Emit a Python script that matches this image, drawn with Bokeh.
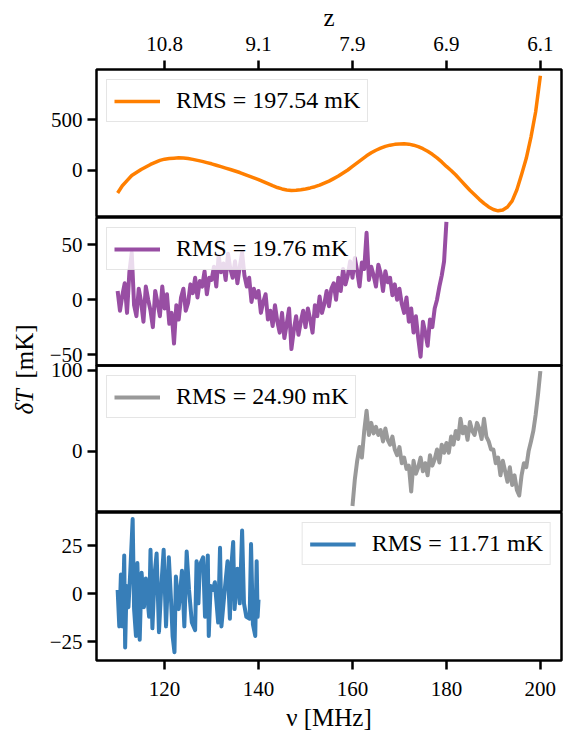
import numpy as np
from math import pi
from bokeh.plotting import figure
from bokeh.models import Range1d, FixedTicker, Legend, LegendItem, Label
from bokeh.layouts import column, row
from bokeh.embed import file_html
from bokeh.resources import INLINE

FONT = "Liberation Serif"

# ---------------- data ----------------
freq_ticks = [120, 140, 160, 180, 200]
z_tick_labels = ["10.8", "9.1", "7.9", "6.9", "6.1"]

rms_values = [197.54, 19.76, 24.90, 11.71]
colors = ["#ff7f00", "#984ea3", "#999999", "#377eb8"]

orange_freq = list(range(110, 201))
orange_dT = [
    -222, -150, -100, -50, -20, 10, 35, 60, 80, 100,          # 110-119
    112, 118, 122, 126, 124, 118, 110, 100, 90, 78,          # 120-129
    66, 52, 38, 24, 10, -5, -20, -38, -55, -72,              # 130-139
    -90, -110, -130, -150, -168, -182, -193, -198, -196, -190,  # 140-149
    -182, -172, -160, -145, -125, -105, -80, -55, -25, 5,    # 150-159
    40, 75, 110, 145, 175, 200, 220, 238, 250, 258,          # 160-169
    262, 265, 260, 250, 235, 215, 190, 160, 125, 85,         # 170-179
    40, 0, -45, -95, -145, -195, -240, -285, -325, -360,     # 180-189
    -385, -398, -390, -360, -300, -190, -40, 120, 330, 580,  # 190-199
    935,                                                     # 200
]

purple_freq = [110 + 0.5 * i for i in range(141)]
purple_dT = [
    8, -10, 4, 15, -12, 25, 43, -5, -15, 10,         # 110.0-114.5
    -2, -20, 12, 0, -10, -25, 8, -3, -15, 12,        # 115.0-119.5
    -8, 5, -22, -12, -40, -5, -18, 2, 10, -10,       # 120.0-124.5
    -3, 14, 6, 20, 2, 17, 12, 26, 5, 20,             # 125.0-129.5
    18, 30, 12, 40, 25, 33, 18, 42, 28, 20,          # 130.0-134.5
    35, 15, 30, 43, 22, 12, 20, -2, 10, 2,           # 135.0-139.5
    8, -12, -2, 5, -18, -10, -24, -5, -20, -30,      # 140.0-144.5
    -12, -35, -22, -8, -45, -28, -15, -32, -20, -10, # 145.0-149.5
    -25, -8, -18, -30, -5, -15, 3, -12, -4, 8,       # 150.0-154.5
    -6, 10, 15, 0, 20, 8, 28, 14, 22, 35,            # 155.0-159.5
    20, 38, 26, 12, 34, 28, 61, 18, 30, 22,          # 160.0-164.5
    12, 32, 24, 8, 26, 16, 20, 4, 14, 0,             # 165.0-169.5
    10, -4, -12, 2, -20, -8, -30, -15, -35, -52,     # 170.0-174.5
    -20, -30, -42, -18, -25, -8, 0, 12, 22, 35,      # 175.0-179.5
    71,                                              # 180.0
]

gray_freq = [160 + 0.5 * i for i in range(81)]
gray_dT = [
    -68, -35, -12, 5, -8, 25, 50, 20, 35, 22,        # 160.0-164.5
    30, 20, 26, 12, 28, 14, 8, 18, 2, -5,            # 165.0-169.5
    5, -15, -8, -22, -18, -50, -12, -28, -20, -8,    # 170.0-174.5
    -25, -15, -30, -5, -18, -10, 2, -14, 8, -2,      # 175.0-179.5
    10, -2, 18, 8, 25, 15, 40, 22, 30, 14,           # 180.0-184.5
    36, 25, 20, 35, 28, 15, 40, 18, 12, 2,           # 185.0-189.5
    2, -15, -8, -30, -12, -25, -38, -20, -42, -30,   # 190.0-194.5
    -48, -55, -30, -15, -20, 0, 12, 25, 45, 70,      # 195.0-199.5
    99,                                              # 200.0
]

blue_freq = [
    110.0, 110.35, 110.7, 111.05, 111.4, 111.6, 111.9, 112.3, 112.7, 113.2,
    113.5, 113.9, 114.2, 114.7, 115.1, 115.6, 116.0, 116.7, 117.0, 117.4,
    117.9, 118.3, 118.8, 119.3, 119.8, 120.3, 120.9, 121.4, 121.7, 122.1,
    122.4, 123.0, 123.7, 124.2, 124.7, 125.2, 125.8, 126.5, 126.8, 127.2,
    127.5, 128.2, 128.6, 129.2, 129.4, 129.8, 130.3, 130.7, 131.4, 131.8,
    132.1, 132.8, 133.4, 133.9, 134.2, 134.6, 134.9, 135.5, 136.0, 136.5,
    136.9, 137.4, 138.1, 138.4, 138.8, 139.3, 139.6, 139.8, 140.0,
]
blue_dT = [
    2, -17, 10, -17, 20, -28, 4, -7, 12, 39,
    -8, -22, 16, -24, 11, -7, 8, -12, 23, -18,
    11, 21, -20, 4, 23, -17, 19, -5, -22, -30.5,
    9, -8, 12, -17, 22, 2, -15, -19, 17, -5,
    15, 19, -12, 20, -22, 4, 2, 6, -15, 24,
    -17, 2, 17, -13, 14, 27, -8, 13, -5, 33,
    -5, -12, -13, 26, -16, -22, 17, -12, -3,
]

series_freq = [orange_freq, purple_freq, gray_freq, blue_freq]
series_dT = [orange_dT, purple_dT, gray_dT, blue_dT]

y_ranges = [(-464, 997), (-60, 75), (-76, 106), (-34.8, 42.4)]
y_ticks = [[0, 500], [-50, 0, 50], [0, 100], [-25, 0, 25]]
legend_locs = ["top_left", "top_left", "top_left", "top_right"]
line_widths = [3.5, 4, 4, 4]

# ---------------- layout ----------------
LAB_W = 40
PANEL_W = 524
frame_h = [148, 148, 147, 148]
top_border = 69
bottom_border = 75
OVL = 14   # overlap between panels 2 and 3 so tick texts are not cut

xr = Range1d(105.5, 204.5)


def style_axis(ax):
    ax.major_label_text_font = FONT
    ax.major_label_text_font_size = "21px"
    ax.major_label_text_color = "black"
    ax.axis_label_text_font = FONT
    ax.axis_label_text_font_size = "25px"
    ax.axis_label_text_font_style = "normal"
    ax.axis_label_text_color = "black"
    ax.axis_line_color = None
    ax.major_tick_in = 0
    ax.major_tick_out = 9
    ax.major_tick_line_width = 2.5
    ax.major_tick_line_color = "black"
    ax.minor_tick_line_color = None
    ax.major_label_standoff = 5


panels = []
for i in range(4):
    b_top, b_bot = 0, 0
    if i == 0:
        xloc = "above"
        b_top = top_border
    elif i == 3:
        xloc = "below"
        b_bot = bottom_border
    else:
        xloc = None
    if i == 1:
        b_bot = OVL
    if i == 2:
        b_top = OVL
    h = frame_h[i] + b_top + b_bot
    p = figure(width=PANEL_W, height=h, x_range=xr,
               y_range=Range1d(*y_ranges[i]),
               toolbar_location=None, output_backend="svg",
               x_axis_location=xloc,
               min_border_left=56, min_border_right=3,
               min_border_top=b_top, min_border_bottom=b_bot)
    p.outline_line_color = "black"
    p.outline_line_width = 2.5
    p.grid.visible = False
    if i == 2:
        p.margin = (-2 * OVL, 0, 0, 0)
        p.border_fill_alpha = 0
        p.background_fill_alpha = 0
    else:
        p.background_fill_color = "white"
        p.border_fill_color = "white"

    r = p.line(series_freq[i], series_dT[i], line_color=colors[i],
               line_width=line_widths[i], line_join="round")

    p.yaxis.ticker = FixedTicker(ticks=y_ticks[i])
    p.yaxis.major_label_overrides = {t: ("\u2212" + str(abs(t)) if t < 0 else str(t))
                                     for t in y_ticks[i]}
    style_axis(p.yaxis[0])

    if i == 0:
        p.xaxis.ticker = FixedTicker(ticks=freq_ticks)
        p.xaxis.major_label_overrides = dict(zip(freq_ticks, z_tick_labels))
        p.xaxis.axis_label = "z"
        style_axis(p.xaxis[0])
        p.xaxis.major_label_standoff = 10
        p.xaxis.axis_label_standoff = 3
    elif i == 3:
        p.xaxis.ticker = FixedTicker(ticks=freq_ticks)
        p.xaxis.axis_label = "\u03bd [MHz]"
        style_axis(p.xaxis[0])
        p.xaxis.major_label_standoff = 12
        p.xaxis.axis_label_standoff = 5

    legend = Legend(items=[LegendItem(label=f"RMS = {rms_values[i]:.2f} mK",
                                      renderers=[r])],
                    location=legend_locs[i])
    legend.label_text_font = FONT
    legend.label_text_font_size = "24px"
    legend.label_text_color = "black"
    legend.glyph_width = 46
    legend.glyph_height = 24
    legend.label_standoff = 16
    legend.padding = 7
    legend.margin = 10
    legend.spacing = 0
    legend.border_line_color = "#cccccc"
    legend.border_line_width = 1.5
    legend.background_fill_alpha = 0.8
    p.add_layout(legend)
    panels.append(p)

# y-axis label column
TOTAL_H = 735
lab = figure(width=LAB_W, height=TOTAL_H, x_range=Range1d(0, LAB_W),
             y_range=Range1d(0, TOTAL_H), toolbar_location=None,
             output_backend="svg", x_axis_location=None, y_axis_location=None,
             min_border=0, min_border_left=0, min_border_right=0,
             min_border_top=0, min_border_bottom=0)
lab.outline_line_color = None
lab.grid.visible = False
lab.add_layout(Label(x=24, y=321, text="\u03b4T", angle=pi / 2,
                     text_font=FONT, text_font_style="italic",
                     text_font_size="25px", text_align="left",
                     text_baseline="middle", text_color="black"))
lab.add_layout(Label(x=24, y=357, text="[mK]", angle=pi / 2,
                     text_font=FONT, text_font_size="25px",
                     text_align="left", text_baseline="middle",
                     text_color="black"))

layout = row(lab, column(*panels, spacing=0), spacing=0)

open("out.html", "w").write(file_html(layout, INLINE))
